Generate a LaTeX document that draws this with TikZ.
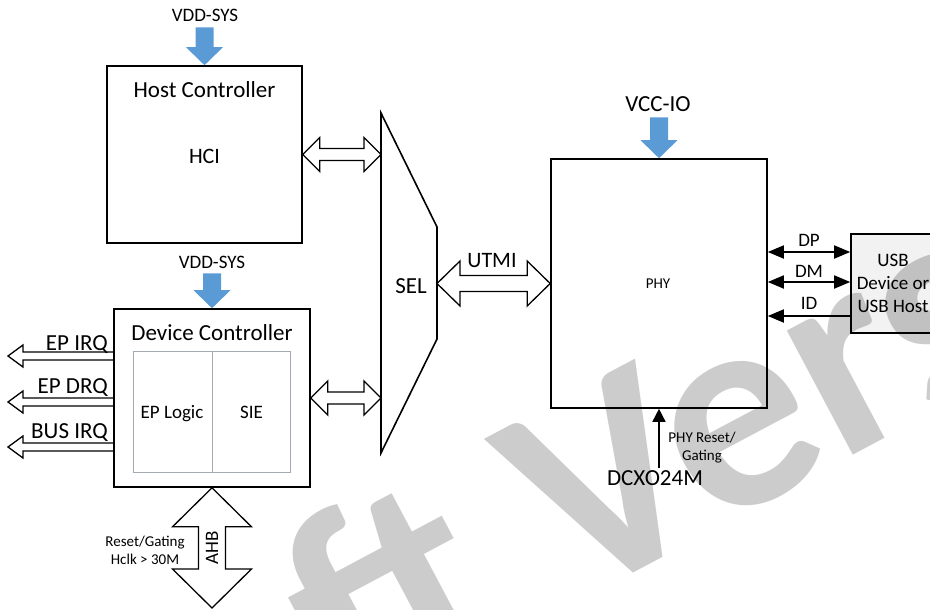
\documentclass[tikz,border=0pt]{standalone}
\usepackage{fontspec}
\setmainfont{Carlito}
\usetikzlibrary{positioning,calc,arrows.meta}
\definecolor{pwrblue}{HTML}{5B9BD5}
\definecolor{usbgray}{HTML}{F2F2F2}
\definecolor{ingray}{HTML}{A3AAB2}
\newcommand{\sz}[2]{\fontsize{#1}{#2}\selectfont}

\tikzset{
  blk/.style={draw, rectangle, line width=1.6pt},
  inblk/.style={draw=ingray, rectangle, line width=0.9pt},
  lbl/.style={inner sep=2pt, anchor=base},
  txtbig/.style={font=\sz{23}{27}},
  txtmid/.style={font=\sz{19}{23}},
  txtsmall/.style={font=\sz{15}{18}},
  % outlined double block arrow, left to right
  hdbl/.style n args={3}{line width=1.3pt, to path={let \p1=(\tikztostart), \p2=(\tikztotarget) in
    (\x1,\y1) -- (\x1+#1,\y1+#2) -- (\x1+#1,\y1+#3) -- (\x2-#1,\y1+#3) -- (\x2-#1,\y1+#2)
    -- (\x2,\y1) -- (\x2-#1,\y1-#2) -- (\x2-#1,\y1-#3) -- (\x1+#1,\y1-#3) -- (\x1+#1,\y1-#2) -- cycle}},
  % outlined double block arrow, top to bottom
  vdbl/.style n args={3}{line width=1.3pt, to path={let \p1=(\tikztostart), \p2=(\tikztotarget) in
    (\x1,\y1) -- (\x1+#2,\y1-#1) -- (\x1+#3,\y1-#1) -- (\x1+#3,\y2+#1) -- (\x1+#2,\y2+#1)
    -- (\x1,\y2) -- (\x1-#2,\y2+#1) -- (\x1-#3,\y2+#1) -- (\x1-#3,\y1-#1) -- (\x1-#2,\y1-#1) -- cycle}},
  % outlined single block arrow pointing left
  lsgl/.style={line width=1.3pt, to path={let \p1=(\tikztostart), \p2=(\tikztotarget) in
    (\x1,\y1+4pt) -- (\x2+15pt,\y1+4pt) -- (\x2+15pt,\y1+11pt) -- (\x2,\y1)
    -- (\x2+15pt,\y1-11pt) -- (\x2+15pt,\y1-4pt) -- (\x1,\y1-4pt)}},
  % blue supply arrow
  pwr/.style={fill=pwrblue, draw=none, to path={let \p1=(\tikztostart), \p2=(\tikztotarget) in
    (\x2-9pt,\y1-3pt) -- (\x2+9pt,\y1-3pt) -- (\x2+9pt,\y2+18pt) -- (\x2+18.5pt,\y2+18pt)
    -- (\x2,\y2) -- (\x2-18.5pt,\y2+18pt) -- (\x2-9pt,\y2+18pt) -- cycle}},
  sig/.style={line width=1.8pt, arrows={Triangle[length=16pt,width=13pt]-Triangle[length=16pt,width=13pt]}},
  sigin/.style={line width=1.8pt, arrows={-Triangle[length=16pt,width=13pt]}},
}

\begin{document}
\begin{tikzpicture}[x=1pt, y=-1pt]
    \useasboundingbox (0,0) rectangle (930,610);
    \clip (0,0) rectangle (930,610);

    % blocks
    \node[blk, minimum width=195pt, minimum height=177pt] (host) at (204.5,154.5) {};
    \node[blk, minimum width=196pt, minimum height=178pt] (dev) at (212,398) {};
    \node[inblk, minimum width=79pt, minimum height=121pt] (eplogic) at (172.5,411.5) {};
    \node[inblk, minimum width=78pt, minimum height=121pt] (sie) at (251,411.5) {};
    \node[blk, minimum width=216pt, minimum height=249pt] (phy) at (659,283.5) {};
    \node[blk, fill=usbgray, minimum width=84pt, minimum height=99pt, align=center, txtmid] (usb) at (893,283.5) {USB\\Device or\\USB Host};

    \coordinate (selnw) at (381,113);
    \coordinate (selne) at (437,227);
    \coordinate (selse) at (437,339);
    \coordinate (selsw) at (381,453);
    \draw[line width=1.6pt] (selnw) -- (selne) -- (selse) -- (selsw) -- cycle;

    % texts
    \node[lbl, txtmid] (vdd1) at (205,22) {VDD-SYS};
    \node[lbl, txtbig] (hosttitle) at (204.5,98) {Host Controller};
    \node[lbl, font=\sz{22}{26}] (hci) at (204.5,163) {HCI};
    \node[lbl, txtmid] (vdd2) at (212,268) {VDD-SYS};
    \node[lbl, txtbig] (devtitle) at (212,340) {Device Controller};
    \node[lbl, txtmid] (eplbl) at (172,418) {EP Logic};
    \node[lbl, txtmid] (sielbl) at (251.5,418) {SIE};
    \node[lbl, txtbig] (sel) at (411,293) {SEL};
    \node[lbl, font=\sz{22}{26}] (utmi) at (492,267) {UTMI};
    \node[lbl, txtbig] (vccio) at (658,112) {VCC-IO};
    \node[lbl, txtsmall] (phylbl) at (658,288) {PHY};
    \node[lbl, txtbig] (xo) at (655,485) {DCXO24M};
    \node[txtsmall, align=center] (phyrst) at (702,447.5) {PHY Reset/\\Gating};
    \node[lbl, txtbig, anchor=base east] (epirq) at (110,350) {EP IRQ};
    \node[lbl, txtbig, anchor=base east] (epdrq) at (110,393) {EP DRQ};
    \node[lbl, txtbig, anchor=base east] (busirq) at (110,438) {BUS IRQ};
    \node[txtsmall, align=center] (ahbnote) at (145,550) {Reset/Gating\\Hclk > 30M};
    \node[lbl, txtmid, rotate=90] (ahb) at (218,548) {AHB};

    % supply
    \draw[pwr] (vdd1.south) to (host.north);
    \draw[pwr] (vdd2.south) to (dev.north);
    \draw[pwr] (vccio.south) to (phy.north);

    % buses
    \draw[hdbl={17pt}{17pt}{6pt}] (host.east) to (host.east -| selnw);
    \draw[hdbl={17pt}{17pt}{6pt}] (dev.east) to (dev.east -| selnw);
    \draw[hdbl={23pt}{22.5pt}{8pt}] (selne |- phy.west) to (phy.west);
    \coordinate (ahbend) at (212,608);
    \draw[vdbl={39pt}{39.5pt}{13.5pt}] (dev.south) to (ahbend);

    \coordinate (irq1) at (8,356);
    \coordinate (irq2) at (8,402);
    \coordinate (irq3) at (8,447);
    \draw[lsgl] (irq1 -| dev.west) to (irq1);
    \draw[lsgl] (irq2 -| dev.west) to (irq2);
    \draw[lsgl] (irq3 -| dev.west) to (irq3);

    % usb lines
    \coordinate (dp) at (809,252);
    \coordinate (dm) at (809,282);
    \coordinate (id) at (809,316);
    \draw[sig] (dp -| phy.east) -- (dp -| usb.west) node[midway, above=3pt, inner sep=2pt, txtmid] {DP};
    \draw[sig] (dm -| phy.east) -- (dm -| usb.west) node[midway, above=2pt, inner sep=2pt, txtmid] {DM};
    \draw[sigin] (id -| usb.west) -- (id -| phy.east) node[midway, above=4pt, inner sep=2pt, txtmid] {ID};

    \draw[line width=1.5pt, -{Triangle[length=13pt,width=13pt]}] (xo.north -| phy.south) -- (phy.south);

    % watermark
    \node[rotate=28, anchor=base west, inner sep=0pt, opacity=.2, font=\bfseries\sz{290}{290}] (wm) at (-20,920) {Draft Version};
\end{tikzpicture}
\end{document}
